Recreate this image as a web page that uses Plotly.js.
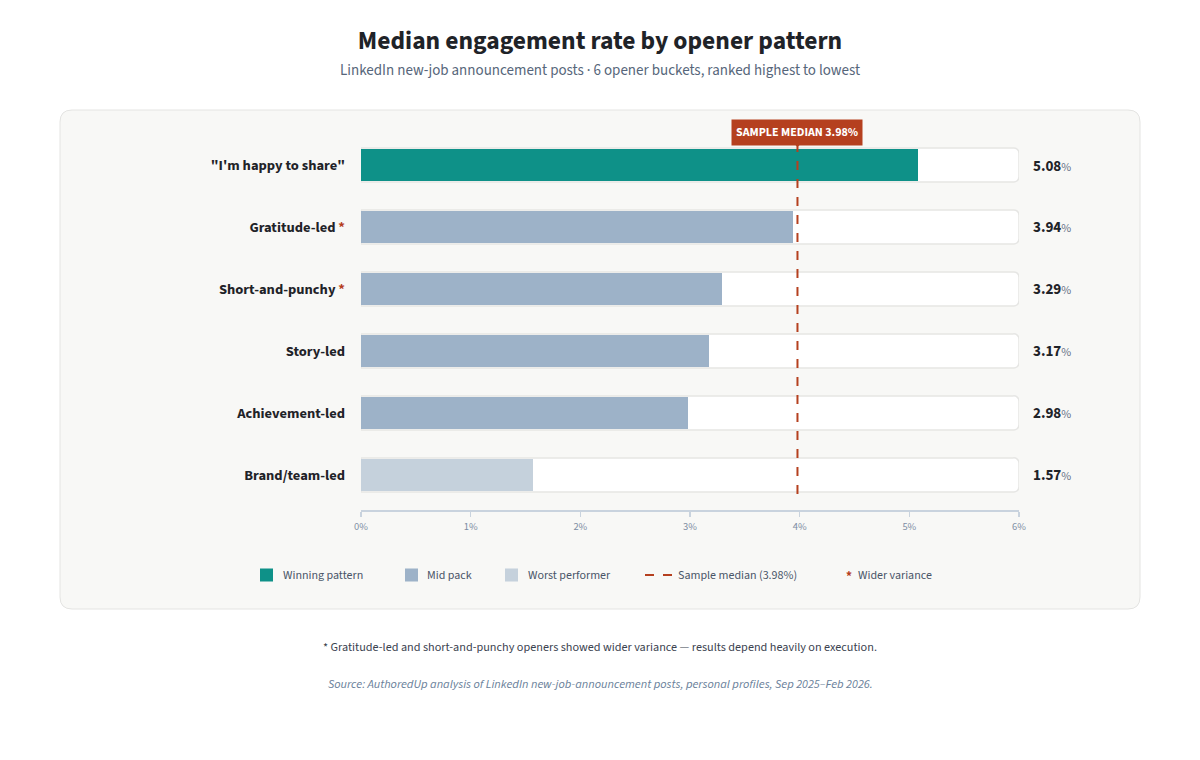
<!DOCTYPE html>
<html>
<head>
<meta charset="utf-8">
<script src="https://cdn.plot.ly/plotly-3.0.1.min.js"></script>
<style>
html,body{margin:0;padding:0;background:#ffffff;}
#chart{width:1200px;height:760px;}
</style>
</head>
<body>
<div id="chart"></div>
<script>
// ---- data ----
const categories = ['"I\'m happy to share"', 'Gratitude-led', 'Short-and-punchy', 'Story-led', 'Achievement-led', 'Brand/team-led'];
const rates = [5.08, 3.94, 3.29, 3.17, 2.98, 1.57];
const groups = ['win', 'mid', 'mid', 'mid', 'mid', 'worst'];
const widerVariance = [false, true, true, false, false, false];
const sampleMedian = 3.98;
const axisMax = 6;
const xTickVals = [0, 1, 2, 3, 4, 5, 6];
const xTickText = ['0%', '1%', '2%', '3%', '4%', '5%', '6%'];
const legendLabels = ['Winning pattern', 'Mid pack', 'Worst performer', 'Sample median (3.98%)', 'Wider variance'];

// ---- style ----
const FONT = '"Source Sans 3", "Source Sans Pro", Lato, "Noto Sans", sans-serif';
const groupColor = {win: '#0e9188', mid: '#9db2c8', worst: '#c5d1dc'};
const RED = '#b5401f';
const L = 361, R = 1019, T = 134, B = 510, W = 1200, H = 760;
const px = x => (x - L) / (R - L);
const py = y => (B - y) / (B - T);

const tickText = categories.map((c, i) => widerVariance[i]
  ? c + ' <span style="color:' + RED + '">*</span>' : c);

const track = {
  type: 'bar', orientation: 'h', y: categories, x: categories.map(() => axisMax),
  width: 0.55, marker: {color: '#ffffff', line: {color: '#e6e6e4', width: 1.5}, cornerradius: 6},
  hoverinfo: 'skip', showlegend: false
};
const bars = {
  type: 'bar', orientation: 'h', y: categories, x: rates,
  width: 0.515, marker: {color: groups.map(g => groupColor[g]), line: {width: 0}, cornerradius: 4},
  hoverinfo: 'skip', showlegend: false
};

// rounded card path in paper coords
function roundRect(x0, y0, x1, y1, r) {
  const X = v => px(v), Y = v => py(v);
  return `M${X(x0 + r)},${Y(y0)} L${X(x1 - r)},${Y(y0)} Q${X(x1)},${Y(y0)} ${X(x1)},${Y(y0 + r)} ` +
    `L${X(x1)},${Y(y1 - r)} Q${X(x1)},${Y(y1)} ${X(x1 - r)},${Y(y1)} L${X(x0 + r)},${Y(y1)} ` +
    `Q${X(x0)},${Y(y1)} ${X(x0)},${Y(y1 - r)} L${X(x0)},${Y(y0 + r)} Q${X(x0)},${Y(y0)} ${X(x0 + r)},${Y(y0)} Z`;
}

const shapes = [
  {type: 'path', xref: 'paper', yref: 'paper', path: roundRect(60, 110, 1140, 609, 12),
   fillcolor: '#f8f8f6', line: {color: '#e4e4e2', width: 1}, layer: 'below'},
  {type: 'line', xref: 'x', yref: 'paper', x0: sampleMedian, x1: sampleMedian, y0: py(143), y1: py(497),
   line: {color: RED, width: 2, dash: 'dash'}, layer: 'above'},
  {type: 'path', xref: 'x', yref: 'paper', xsizemode: 'pixel', ysizemode: 'pixel',
   xanchor: sampleMedian, yanchor: py(143), path: 'M-4,0 L4,0 L0,-4 Z',
   fillcolor: RED, line: {width: 0}, layer: 'above'}
];

const annotations = [
  {xref: 'paper', yref: 'paper', x: px(600), y: py(71), xanchor: 'center', yanchor: 'middle',
   text: 'LinkedIn new-job announcement posts · 6 opener buckets, ranked highest to lowest',
   showarrow: false, font: {family: FONT, size: 15, color: '#56667a'}},
  {xref: 'x', yref: 'paper', x: sampleMedian, y: py(132), xanchor: 'center', yanchor: 'middle',
   text: '<b>SAMPLE MEDIAN 3.98%</b>', showarrow: false, bgcolor: RED, borderpad: 4,
   font: {family: FONT, size: 12, color: '#ffffff'}},
  {xref: 'paper', yref: 'paper', x: px(600), y: py(647), xanchor: 'center', yanchor: 'middle',
   text: '* Gratitude-led and short-and-punchy openers showed wider variance — results depend heavily on execution.',
   showarrow: false, font: {family: FONT, size: 12.2, color: '#3b4350'}},
  {xref: 'paper', yref: 'paper', x: px(600), y: py(684), xanchor: 'center', yanchor: 'middle',
   text: '<i>Source: AuthoredUp analysis of LinkedIn new-job-announcement posts, personal profiles, Sep 2025–Feb 2026.</i>',
   showarrow: false, font: {family: FONT, size: 12.3, color: '#6a7f9a'}}
];

rates.forEach((v, i) => {
  annotations.push({xref: 'x', yref: 'y', x: axisMax, y: categories[i], xshift: 12, yshift: -1, xanchor: 'left', yanchor: 'middle',
    text: '<b>' + v.toFixed(2) + '</b><span style="font-size:12px;color:#5f6f85">%</span>',
    showarrow: false, font: {family: FONT, size: 15, color: '#1f2328'}});
});

// custom legend
const legY = py(575);
const sq = [[260, groupColor.win], [405, groupColor.mid], [505, groupColor.worst]];
sq.forEach(([x, c]) => shapes.push({type: 'rect', xref: 'paper', yref: 'paper',
  x0: px(x), x1: px(x + 13), y0: py(581.5), y1: py(568.5), fillcolor: c, line: {width: 0}}));
shapes.push({type: 'line', xref: 'paper', yref: 'paper', x0: px(645), x1: px(673), y0: legY, y1: legY,
  line: {color: RED, width: 2, dash: 'dash'}});
const legTextX = [281, 425, 526, 676, 856];
legendLabels.forEach((t, i) => annotations.push({xref: 'paper', yref: 'paper', x: px(legTextX[i]), y: legY,
  xanchor: 'left', yanchor: 'middle', text: t, showarrow: false, font: {family: FONT, size: 12, color: '#4a5568'}}));
annotations.push({xref: 'paper', yref: 'paper', x: px(849), y: py(577), xanchor: 'center', yanchor: 'middle',
  text: '<b>*</b>', showarrow: false, font: {family: FONT, size: 13, color: RED}});

const layout = {
  width: W, height: H,
  margin: {l: L, r: W - R, t: T, b: H - B, pad: 0},
  paper_bgcolor: '#ffffff', plot_bgcolor: 'rgba(0,0,0,0)',
  font: {family: FONT},
  title: {text: '<b>Median engagement rate by opener pattern</b>', x: 0.5, xanchor: 'center', xref: 'container',
    y: 1 - 40 / H, yanchor: 'middle', yref: 'container', font: {family: FONT, size: 25.5, color: '#1f2328'}},
  barmode: 'overlay', bargap: 0,
  showlegend: false,
  xaxis: {range: [0, axisMax], tickmode: 'array', tickvals: xTickVals, ticktext: xTickText, showgrid: false, zeroline: false,
    showline: true, linecolor: '#c9d3de', linewidth: 2, ticks: 'outside', ticklen: 5, tickwidth: 1.5,
    tickcolor: '#c9d3de', tickfont: {family: FONT, size: 10.5, color: '#7d8da3'}, fixedrange: true},
  yaxis: {type: 'category', categoryorder: 'array', categoryarray: categories, range: [5.565, -0.5],
    tickvals: categories, ticktext: tickText, showgrid: false, zeroline: false, showline: false, ticks: '',
    ticklabelstandoff: 15, tickfont: {family: FONT, size: 14.5, color: '#1f2328', weight: 'bold'}, fixedrange: true},
  shapes: shapes,
  annotations: annotations
};

Plotly.newPlot('chart', [track, bars], layout, {displayModeBar: false, staticPlot: true});
</script>
</body>
</html>
